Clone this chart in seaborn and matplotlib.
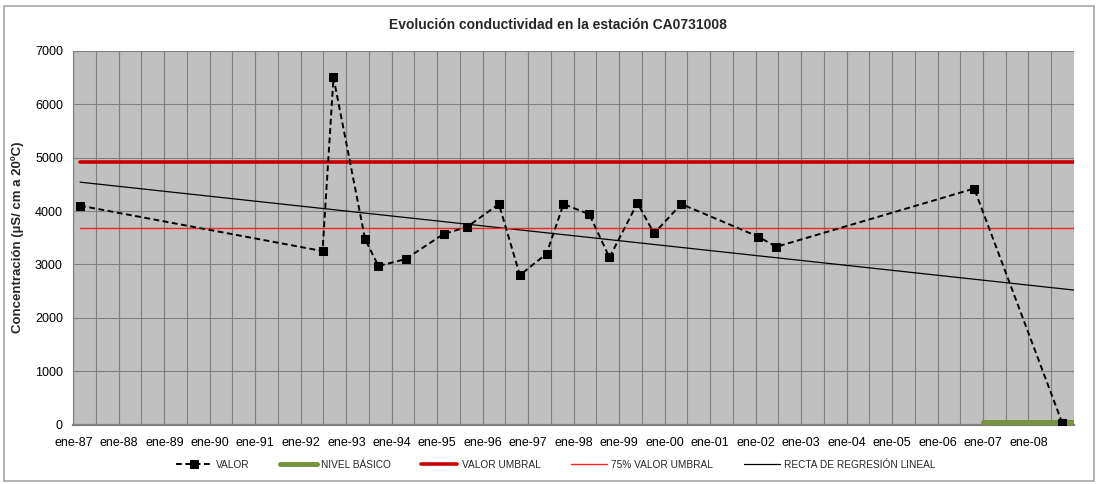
import matplotlib
matplotlib.use("Agg")
import matplotlib.pyplot as plt
import matplotlib.dates as mdates
from matplotlib.patches import Rectangle
from matplotlib.ticker import FixedLocator
import pandas as pd
import seaborn as sns

# --- data --------------------------------------------------------------------
fechas = [
    "1987-02-24", "1992-06-24", "1992-09-20", "1993-06-01", "1993-09-16",
    "1994-04-22", "1995-02-21", "1995-08-28", "1996-05-10", "1996-10-26",
    "1997-05-28", "1997-10-11", "1998-05-06", "1998-10-15", "1999-05-28",
    "1999-10-08", "2000-05-14", "2002-01-22", "2002-06-16", "2006-10-22",
    "2008-09-27",
]
valor = [
    4100, 3250, 6500, 3470, 2970,
    3100, 3570, 3700, 4130, 2800,
    3200, 4130, 3940, 3130, 4150,
    3580, 4130, 3520, 3330, 4420,
    40,
]

nivel_fechas = ["2007-01-01", "2009-01-01"]
nivel_basico = [45, 45]

umbral_fechas = ["1987-02-24", "2009-01-01"]
valor_umbral = [4920, 4920]
umbral_75 = [3690, 3690]
regresion = [4540, 2520]

anios_etiqueta = pd.date_range("1987-01-01", "2008-01-01", freq="YS")

series_labels = ["VALOR", "NIVEL BÁSICO", "VALOR UMBRAL", "75% VALOR UMBRAL",
                 "RECTA DE REGRESIÓN LINEAL"]

# --- style -------------------------------------------------------------------
sns.set_style("white")
plt.rcParams["font.family"] = ["Liberation Sans", "DejaVu Sans"]

GRID = "#808080"

fig = plt.figure(figsize=(10.98, 4.84), dpi=100)
ax = fig.add_axes([0.0668, 0.1225, 0.9114, 0.7727])
ax.set_facecolor("#C0C0C0")

fig.patches.append(Rectangle((4 / 1098, 3 / 484), 1090 / 1098, 475 / 484,
                             transform=fig.transFigure, fill=False,
                             edgecolor="#A6A6A6", lw=1.2, zorder=0))

x_val = pd.to_datetime(fechas)
x_nivel = pd.to_datetime(nivel_fechas)
x_umbral = pd.to_datetime(umbral_fechas)

sns.lineplot(x=x_umbral, y=regresion, ax=ax, color="black", lw=0.9,
             label=series_labels[4], zorder=3)
sns.lineplot(x=x_umbral, y=umbral_75, ax=ax, color="#FF2020", lw=1.0,
             label=series_labels[3], zorder=3)
sns.lineplot(x=x_umbral, y=valor_umbral, ax=ax, color="#C80000", lw=2.6,
             label=series_labels[2], zorder=3)
sns.lineplot(x=x_nivel, y=nivel_basico, ax=ax, color="#77933C", lw=3.6,
             solid_capstyle="round", label=series_labels[1], zorder=3)
sns.lineplot(x=x_val, y=valor, ax=ax, color="black", lw=1.4,
             linestyle=(0, (3, 1.8)), marker="s", markersize=5.5,
             markeredgecolor="black", label=series_labels[0], zorder=4)

# axes
ax.set_ylim(0, 7000)
ax.set_yticks(range(0, 7001, 1000))
ax.set_xlim(pd.Timestamp("1987-01-01"), pd.Timestamp("2009-01-01"))
ax.xaxis.set_major_locator(FixedLocator(mdates.date2num(anios_etiqueta)))
ax.xaxis.set_major_formatter(mdates.DateFormatter("ene-%y"))
ax.xaxis.set_minor_locator(mdates.MonthLocator(bymonth=[1, 7]))
ax.xaxis.remove_overlapping_locs = False

ax.grid(True, which="both", axis="x", color=GRID, lw=0.8)
ax.grid(True, which="major", axis="y", color=GRID, lw=0.8)
ax.set_axisbelow(True)

for side in ("top", "right"):
    ax.spines[side].set_visible(False)
ax.spines["left"].set_color(GRID)
ax.spines["left"].set_linewidth(0.8)
ax.spines["bottom"].set_color(GRID)
ax.spines["bottom"].set_linewidth(1.6)

ax.tick_params(axis="both", which="major", direction="out", length=4,
               color=GRID, width=0.8, labelsize=9, labelcolor="black")
ax.tick_params(axis="x", which="major", pad=5)
ax.tick_params(axis="x", which="minor", length=0)
ax.set_xlabel("")
ax.set_ylabel("Concentración (µS/ cm a 20ºC)", fontsize=9.5,
              fontweight="bold", labelpad=8)

fig.text(0.508, 0.948, "Evolución conductividad en la estación CA0731008",
         ha="center", va="center", fontsize=10, fontweight="bold")

# legend in the reference order
handles, labels = ax.get_legend_handles_labels()
lookup = dict(zip(labels, handles))
if ax.get_legend() is not None:
    ax.get_legend().remove()
fig.legend([lookup[l] for l in series_labels], series_labels,
           loc="center", bbox_to_anchor=(0.506, 0.04), ncol=5,
           frameon=False, fontsize=7.3, handlelength=3.6, handletextpad=0.4,
           columnspacing=3.0)

fig.savefig("out.png", dpi=100)
plt.close(fig)
